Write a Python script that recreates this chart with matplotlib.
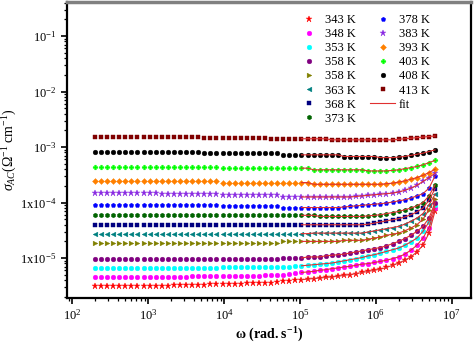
import numpy as np
import matplotlib
matplotlib.use("Agg")
import matplotlib.pyplot as plt
from matplotlib.ticker import FixedLocator, LogLocator, NullFormatter

plt.rcParams['font.family'] = ['Liberation Serif', 'DejaVu Serif']
plt.rcParams['mathtext.fontset'] = 'custom'
plt.rcParams['mathtext.rm'] = 'Liberation Serif'
plt.rcParams['mathtext.it'] = 'Liberation Serif:italic'
plt.rcParams['mathtext.bf'] = 'Liberation Serif:bold'

# measured frequencies (rad/s), 57 points from ~2e2 to ~6e6
log_freq = 2.30 + 0.08 * np.arange(57)
freq = 10 ** log_freq

# log10(sigma_ac) * 100 at each frequency
s343 = [-550]*13 + [-549]*6 + [-547]*6 + [-545]*5 + [-543, -542, -541, -540, -539, -538, -537, -536, -535, -534, -533,
        -531, -530, -528, -526, -524, -522, -520, -517, -513, -509, -504, -498, -489, -477, -455, -415]
s348 = [-534]*16 + [-533]*7 + [-532]*5 + [-530]*4 + [-528, -527, -526, -525, -524, -522, -521, -519, -518, -516, -515,
        -513, -511, -510, -508, -506, -504, -501, -498, -493, -486, -477, -464, -445, -410]
s353 = [-518]*21 + [-517]*8 + [-516]*4 + [-515, -514, -513, -512, -511, -510, -509, -507, -505, -503, -501, -499,
        -496, -494, -491, -488, -485, -482, -477, -471, -464, -452, -435, -405]
s358c = [-502]*26 + [-501]*5 + [-500]*4 + [-498]*3 + [-496, -495, -494, -493, -491, -489, -487, -485, -483, -481,
         -478, -474, -470, -465, -459, -452, -443, -428, -400]
s358t = [-472]*31 + [-470]*10 + [-468]*4 + [-466, -464, -462, -459, -457, -455, -451, -446, -440, -430, -413, -393]
s363 = [-456]*36 + [-455]*9 + [-453, -451, -449, -447, -445, -443, -439, -434, -428, -420, -404, -385]
s368 = [-440]*45 + [-439, -437, -435, -433, -431, -429, -426, -422, -417, -410, -396, -375]
s373 = [-423]*37 + [-425]*8 + [-424, -423, -422, -420, -418, -416, -413, -410, -406, -400, -388, -368]
s378 = [-405]*21 + [-407]*10 + [-409]*10 + [-408, -407, -406, -405, -404, -403, -402, -401, -399, -397, -395,
        -392, -388, -384, -374, -352]
s383 = [-383]*11 + [-385]*10 + [-387]*10 + [-390]*12 + [-389, -388, -387, -386, -385, -384, -383, -381, -378, -374,
        -369, -362, -355, -347]
s393 = [-361]*21 + [-364]*15 + [-367]*12 + [-366, -365, -363, -361, -358, -355, -351, -346, -340]
s403 = [-336]*21 + [-338]*15 + [-341]*9 + [-343]*4 + [-342, -341, -339, -337, -335, -332, -328, -324]
s408 = [-309]*18 + [-311]*13 + [-314]*10 + [-317]*6 + [-319]*3 + [-318, -317, -315, -313, -311, -308, -305]
s413 = [-282]*18 + [-283]*11 + [-285]*10 + [-287]*11 + [-286, -285, -284, -283, -282, -281, -280]

series = [
    ('343 K', s343, '*', '#ff0000'),
    ('348 K', s348, 'o', '#ff00ff'),
    ('353 K', s353, 'o', '#00ffff'),
    ('358 K', s358c, 'o', '#800080'),
    ('358 K', s358t, '>', '#808000'),
    ('363 K', s363, '<', '#008080'),
    ('368 K', s368, 's', '#000080'),
    ('373 K', s373, 'h', '#006400'),
    ('378 K', s378, 'p', '#0000ff'),
    ('383 K', s383, '*', '#8a2be2'),
    ('393 K', s393, 'D', '#ff8000'),
    ('403 K', s403, 'P', '#00ff00'),
    ('408 K', s408, 'o', '#000000'),
    ('413 K', s413, 's', '#800000'),
]
fit_start = 34

fig = plt.figure(figsize=(4.74, 3.47), dpi=100)
ax = fig.add_axes([0.141, 0.141, 0.853, 0.853])

for name, vals, mk, col in series:
    sig = 10 ** (np.array(vals) / 100.0)
    ms = 4.8 if mk == '*' else 3.4
    if mk in ('D',):
        ms = 3.0
    ax.plot(freq, sig, linestyle='none', marker=mk, color=col, markersize=ms,
            markeredgewidth=0.3, label=name)
for name, vals, mk, col in series:
    sig = 10 ** (np.array(vals) / 100.0)
    ax.plot(freq[fit_start:], sig[fit_start:], color='#e03030', lw=0.8,
            label='fit' if name == '343 K' else None)

ax.set_xscale('log')
ax.set_yscale('log')
ax.set_xlim(85, 1.8e7)
ax.set_ylim(1.9e-6, 0.41)

ax.xaxis.set_major_locator(FixedLocator([1e2, 1e3, 1e4, 1e5, 1e6, 1e7]))
ax.set_xticklabels([r'$10^{2}$', r'$10^{3}$', r'$10^{4}$', r'$10^{5}$', r'$10^{6}$', r'$10^{7}$'])
ax.xaxis.set_minor_locator(LogLocator(base=10, subs=np.arange(2, 10), numticks=20))
ax.xaxis.set_minor_formatter(NullFormatter())
ax.yaxis.set_major_locator(FixedLocator([1e-5, 1e-4, 1e-3, 1e-2, 1e-1]))
ax.set_yticklabels([r'1x$10^{-5}$', r'1x$10^{-4}$', r'$10^{-3}$', r'$10^{-2}$', r'$10^{-1}$'])
ax.yaxis.set_minor_locator(LogLocator(base=10, subs=np.arange(2, 10), numticks=20))
ax.yaxis.set_minor_formatter(NullFormatter())

ax.tick_params(which='major', direction='out', length=4, width=1.2, labelsize=9, top=False, right=False)
ax.tick_params(which='minor', direction='out', length=2.5, width=0.9, top=False, right=False)
for s in ['left', 'bottom', 'right']:
    ax.spines[s].set_linewidth(1.6)
ax.spines['top'].set_linewidth(2.5)
ax.spines['top'].set_color('#808080')

ax.set_xlabel(r'$\mathbf{\omega}$ (rad. s$^{\mathbf{-1}}$)', fontsize=10, fontweight='bold', labelpad=2)
ax.set_ylabel(r'$\sigma_{AC}$($\Omega^{-1}$ cm$^{-1}$)', fontsize=10, labelpad=1)

handles, labels = ax.get_legend_handles_labels()
leg = ax.legend(handles, labels, ncol=2, frameon=False, fontsize=9,
                loc='upper right', bbox_to_anchor=(0.898, 0.96),
                borderaxespad=0.0, borderpad=0.0,
                handlelength=2.0, handletextpad=0.3, columnspacing=1.13,
                labelspacing=0.17, markerscale=1.0)

fig.savefig('out.png', dpi=100)
